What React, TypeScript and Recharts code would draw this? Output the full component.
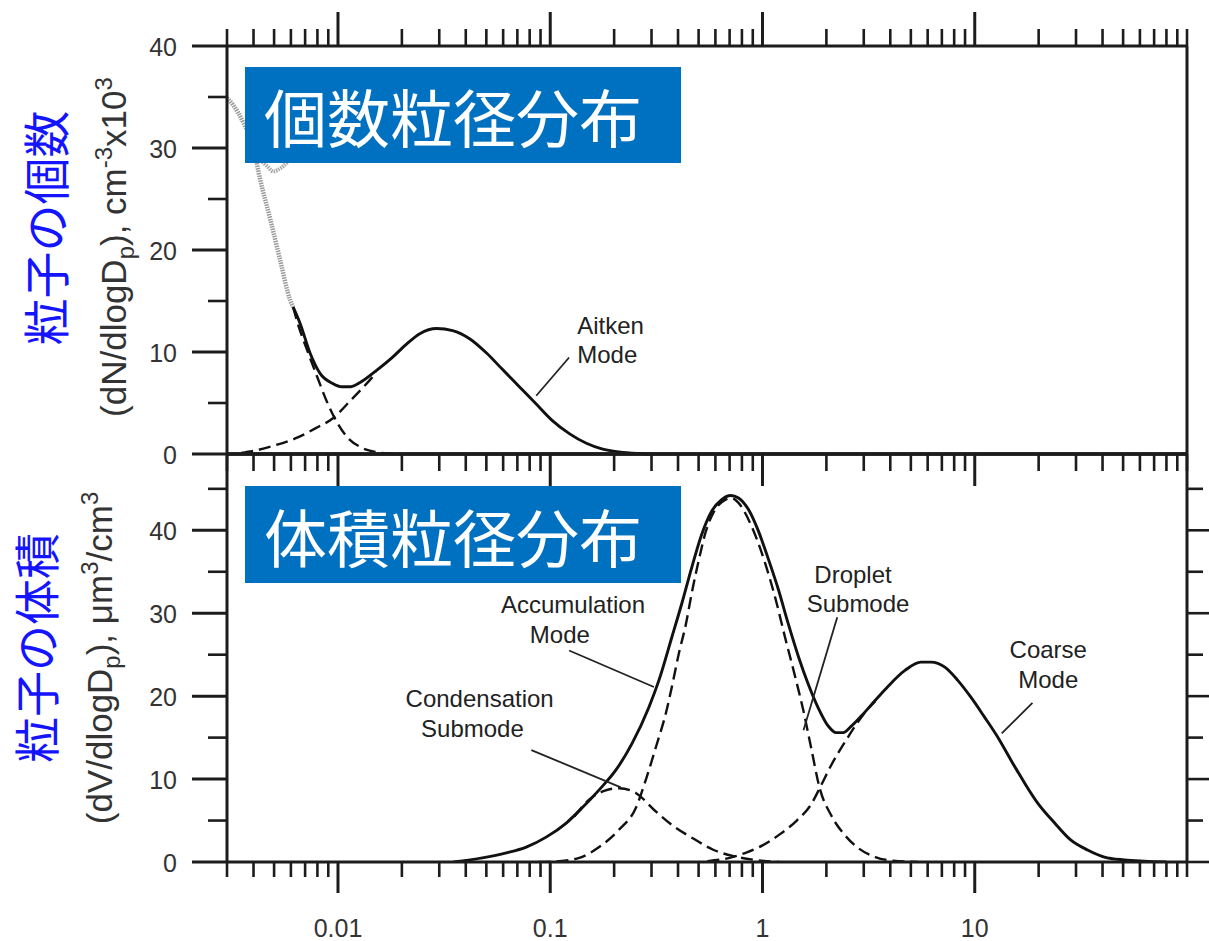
import React from "react";
import { LineChart, Line, XAxis, YAxis, ReferenceLine, ReferenceDot } from "recharts";

// ---------- axis ticks ----------
const xTicks = [
  0.003, 0.004, 0.005, 0.006, 0.007, 0.008, 0.009,
  0.01, 0.02, 0.03, 0.04, 0.05, 0.06, 0.07, 0.08, 0.09,
  0.1, 0.2, 0.3, 0.4, 0.5, 0.6, 0.7, 0.8, 0.9,
  1, 2, 3, 4, 5, 6, 7, 8, 9,
  10, 20, 30, 40, 50, 60, 70, 80, 90, 100,
];
const xMajorTicks = [0.01, 0.1, 1, 10];
const xTickLabels = ["0.01", "0.1", "1", "10"];

const numLeftTicks = [0, 5, 10, 15, 20, 25, 30, 35, 40];
const numLeftMajor = [0, 10, 20, 30, 40];
const numRightTicks = [0, 10, 20, 30, 40, 50, 60];
const numRightMajor = [0, 20, 40, 60];
const volLeftTicks = [0, 5, 10, 15, 20, 25, 30, 35, 40, 45];
const volLeftMajor = [0, 10, 20, 30, 40];

// ---------- number distribution (top) ----------
const numTotalD = [0.00615, 0.00663, 0.0074, 0.00823, 0.00947, 0.0104, 0.0115, 0.0127, 0.0152, 0.0181, 0.0211, 0.0243, 0.0292, 0.0347, 0.0417, 0.0501, 0.0595, 0.0715, 0.0859, 0.102, 0.123, 0.148, 0.175, 0.211, 0.26, 0.3];
const numTotalV = [14.4, 12.8, 9.85, 7.9, 6.9, 6.6, 6.6, 7.0, 8.2, 9.5, 10.8, 11.8, 12.3, 12.1, 11.3, 9.9, 8.3, 6.6, 4.9, 3.3, 2.0, 1.05, 0.5, 0.2, 0.05, 0];

const nucGrayD = [0.003, 0.00321, 0.00358, 0.00399, 0.0043, 0.0048, 0.00534, 0.00595, 0.00615];
const nucGrayV = [34.9, 34.2, 32.5, 30.1, 26.9, 23.0, 19.0, 15.1, 14.4];

const ghostD = [0.00399, 0.0043, 0.00465, 0.00495, 0.00534, 0.00577, 0.0062];
const ghostV = [30.1, 28.9, 28.2, 27.7, 28.0, 28.6, 29.5];

const nucDashD = [0.00615, 0.00642, 0.00715, 0.00797, 0.00888, 0.0099, 0.011, 0.0127, 0.0146, 0.0175, 0.02];
const nucDashV = [14.4, 13.0, 10.2, 7.6, 5.1, 3.1, 1.7, 0.7, 0.25, 0.05, 0];

const aitDashD = [0.0035, 0.004, 0.00495, 0.00642, 0.00797, 0.00947, 0.0114, 0.0131, 0.0152];
const aitDashV = [0.1, 0.3, 0.8, 1.6, 2.6, 3.5, 5.2, 6.5, 8.0];

// ---------- volume distribution (bottom) ----------
const volTotalD = [0.035, 0.0479, 0.0621, 0.0771, 0.0957, 0.119, 0.141, 0.17, 0.204, 0.243, 0.292, 0.325, 0.374, 0.417, 0.464, 0.517, 0.576, 0.642, 0.708, 0.771, 0.859, 0.957, 1.07, 1.19, 1.32, 1.48, 1.64, 1.83, 2.04, 2.22, 2.4, 2.6, 2.92, 3.4, 3.91, 4.69, 5.57, 6.21, 7.23, 8.32, 9.57, 11.1, 12.8, 14.8, 17.2, 19.8, 23.8, 28.2, 34.0, 40.8, 50.6, 62.8, 80];
const volTotalV = [0, 0.5, 1.1, 1.8, 3.0, 4.7, 6.5, 8.7, 11.1, 14.3, 18.7, 21.9, 27.1, 31.2, 35.5, 39.5, 42.3, 43.7, 44.2, 43.9, 42.5, 39.9, 36.4, 32.8, 28.8, 24.7, 21.5, 18.6, 16.4, 15.6, 15.6, 16.3, 17.6, 19.5, 21.2, 23.1, 24.1, 24.1, 23.5, 21.9, 19.9, 17.5, 15.1, 12.3, 9.5, 7.1, 4.7, 2.7, 1.45, 0.6, 0.25, 0.1, 0];

const condDashD = [0.13, 0.152, 0.181, 0.211, 0.254, 0.308, 0.382, 0.474, 0.589, 0.731, 0.957, 1.2];
const condDashV = [5.5, 7.5, 8.6, 8.9, 8.3, 6.3, 4.3, 2.8, 1.45, 0.7, 0.2, 0];

const dropDashD = [0.088, 0.11, 0.137, 0.17, 0.211, 0.254, 0.282, 0.315, 0.351, 0.374, 0.404, 0.435, 0.464, 0.501, 0.54, 0.602, 0.67, 0.715, 0.771, 0.888, 1.03, 1.15, 1.28, 1.43, 1.56, 1.7, 1.86, 2.11, 2.45, 2.82, 3.4, 4.12, 5.4];
const dropDashV = [0, 0.1, 0.5, 1.8, 3.9, 6.6, 9.9, 13.9, 18.0, 21.1, 25.2, 28.6, 32.4, 36.4, 39.8, 42.6, 43.7, 43.9, 43.3, 40.5, 36.0, 31.8, 27.0, 22.2, 18.2, 13.6, 8.9, 5.6, 3.2, 1.7, 0.6, 0.15, 0];

const coarseDashD = [0.55, 0.7, 0.85, 1.0, 1.2, 1.45, 1.7, 1.86, 2.1, 2.45, 2.82, 3.1, 3.4];
const coarseDashV = [0.1, 0.5, 1.2, 2.0, 3.3, 5.0, 7.0, 8.9, 11.6, 14.5, 16.9, 18.3, 19.4];

// ---------- annotations ----------
const numNotes = [
  { text: "Aitken", d: 0.134, v: 11.8, anchor: "start" },
  { text: "Mode", d: 0.134, v: 8.9, anchor: "start" },
];
const numLeaders = [{ d1: 0.1227, v1: 9.46, d2: 0.0859, v2: 5.71 }];

const volNotes = [
  { text: "Accumulation", d: 0.128, v: 30.0, anchor: "middle" },
  { text: "Mode", d: 0.111, v: 26.4, anchor: "middle" },
  { text: "Condensation", d: 0.0465, v: 18.7, anchor: "middle" },
  { text: "Submode", d: 0.043, v: 15.1, anchor: "middle" },
  { text: "Droplet", d: 2.67, v: 33.7, anchor: "middle" },
  { text: "Submode", d: 2.82, v: 30.1, anchor: "middle" },
  { text: "Coarse", d: 22.2, v: 24.6, anchor: "middle" },
  { text: "Mode", d: 22.2, v: 21.0, anchor: "middle" },
];
const volLeaders = [
  { d1: 0.1227, v1: 25.5, d2: 0.308, v2: 21.1 },
  { d1: 0.0815, v1: 13.5, d2: 0.215, v2: 9.0 },
  { d1: 2.25, v1: 29.5, d2: 1.56, v2: 15.9 },
  { d1: 18.7, v1: 19.2, d2: 13.4, v2: 15.5 },
];

// ---------- styles ----------
const W = 1209;
const H = 941;
const PLOT_L = 227;
const PLOT_R = 1187;
const TOP_Y0 = 46;
const MID_Y = 454;
const BOT_Y1 = 862;
const AXIS = "#1c1c1c";
const INK = "#111";
const LABEL = "#333";
const SANS = "'Liberation Sans', Arial, Helvetica, sans-serif";
const CJK = "'Noto Sans CJK JP', 'Noto Sans CJK SC', sans-serif";

const toPts = (d: number[], v: number[]) => d.map((x, i) => ({ d: x, v: v[i] }));

// ---------- tick renderers ----------
const XTickUp = (p: any) => {
  const major = xMajorTicks.includes(p.payload.value);
  return <line x1={p.x} x2={p.x} y1={p.y} y2={p.y - (major ? 34 : 17)} stroke={AXIS} strokeWidth={major ? 3 : 2.6} />;
};
const XTickDownInner = (p: any) => {
  const major = xMajorTicks.includes(p.payload.value);
  return <line x1={p.x} x2={p.x} y1={p.y} y2={p.y + (major ? 32 : 17)} stroke={AXIS} strokeWidth={major ? 3 : 2.6} />;
};
const XTickDownLabeled = (p: any) => {
  const idx = xMajorTicks.indexOf(p.payload.value);
  const major = idx >= 0;
  return (
    <g>
      <line x1={p.x} x2={p.x} y1={p.y} y2={p.y + (major ? 31 : 15)} stroke={AXIS} strokeWidth={major ? 3 : 2.6} />
      {major && (
        <text x={p.x} y={p.y + 75} textAnchor="middle" fontSize={25} fontFamily={SANS} fill={LABEL}>
          {xTickLabels[idx]}
        </text>
      )}
    </g>
  );
};
const makeLeftTick = (majors: number[]) => (p: any) => {
  const major = majors.includes(p.payload.value);
  return (
    <g>
      <line x1={p.x - (major ? 35 : 19)} x2={p.x} y1={p.y} y2={p.y} stroke={AXIS} strokeWidth={major ? 3 : 2.6} />
      {major && (
        <text x={p.x - 50} y={p.y + 10} textAnchor="end" fontSize={25} fontFamily={SANS} fill={LABEL}>
          {p.payload.value}
        </text>
      )}
    </g>
  );
};
const makeRightTick = (majors: number[]) => (p: any) => {
  const major = majors.includes(p.payload.value);
  return <line x1={p.x} x2={p.x + (major ? 24 : 16)} y1={p.y} y2={p.y} stroke={AXIS} strokeWidth={2.6} />;
};

const noteShape = (n: any) => (p: any) => (
  <text x={p.cx} y={p.cy} textAnchor={n.anchor} fontSize={24} fontFamily={SANS} fill="#222">
    {n.text}
  </text>
);

const solid = { stroke: INK, strokeWidth: 2.9, dot: false, isAnimationActive: false, type: "monotone" as const };
const dashed = { stroke: INK, strokeWidth: 2.4, strokeDasharray: "12 6", dot: false, isAnimationActive: false, type: "monotone" as const };

// axes have size 1 so Recharts draws them; margins are reduced by that 1px
function NumberChart() {
  return (
    <LineChart width={W} height={H} margin={{ top: TOP_Y0 - 1, right: W - PLOT_R - 1, left: PLOT_L - 1, bottom: H - MID_Y - 1 }}>
      <XAxis xAxisId="b" type="number" dataKey="d" scale="log" domain={[0.003, 100]} allowDataOverflow
        orientation="bottom" height={1} ticks={xTicks} interval={0} tick={false} tickLine={false}
        axisLine={{ stroke: AXIS, strokeWidth: 3.5 }} />
      <XAxis xAxisId="t" type="number" dataKey="d" scale="log" domain={[0.003, 100]} allowDataOverflow
        orientation="top" height={1} ticks={xTicks} interval={0} tickSize={0} tickMargin={0} tickLine={false}
        tick={XTickUp} axisLine={{ stroke: AXIS, strokeWidth: 3 }} />
      <YAxis yAxisId="l" type="number" domain={[0, 40]} ticks={numLeftTicks} interval={0} width={1}
        tickSize={0} tickMargin={0} tickLine={false} tick={makeLeftTick(numLeftMajor)} axisLine={{ stroke: AXIS, strokeWidth: 3 }} />
      <YAxis yAxisId="r" orientation="right" type="number" domain={[0, 60]} ticks={numRightTicks} interval={0} width={1}
        tickSize={0} tickMargin={0} tickLine={false} tick={makeRightTick(numRightMajor)} axisLine={{ stroke: AXIS, strokeWidth: 3 }} />

      <Line xAxisId="b" yAxisId="l" data={toPts(ghostD, ghostV)} dataKey="v" {...solid} stroke="#a8a8a8" strokeWidth={4} strokeDasharray="1.5 1" />
      <Line xAxisId="b" yAxisId="l" data={toPts(nucGrayD, nucGrayV)} dataKey="v" {...solid} stroke="#9c9c9c" strokeWidth={4.5} strokeDasharray="1.5 1" />
      <Line xAxisId="b" yAxisId="l" data={toPts(nucDashD, nucDashV)} dataKey="v" {...dashed} />
      <Line xAxisId="b" yAxisId="l" data={toPts(aitDashD, aitDashV)} dataKey="v" {...dashed} />
      <Line xAxisId="b" yAxisId="l" data={toPts(numTotalD, numTotalV)} dataKey="v" {...solid} />

      {numLeaders.map((l, i) => (
        <ReferenceLine key={"nl" + i} xAxisId="b" yAxisId="l" ifOverflow="visible"
          segment={[{ x: l.d1, y: l.v1 }, { x: l.d2, y: l.v2 }]} stroke="#222" strokeWidth={1.8} />
      ))}
      {numNotes.map((n, i) => (
        <ReferenceDot key={"nn" + i} xAxisId="b" yAxisId="l" x={n.d} y={n.v} r={0} ifOverflow="visible" shape={noteShape(n)} />
      ))}
    </LineChart>
  );
}

function VolumeChart() {
  return (
    <LineChart width={W} height={H} margin={{ top: MID_Y - 1, right: W - PLOT_R - 1, left: PLOT_L - 1, bottom: H - BOT_Y1 - 1 }}>
      <XAxis xAxisId="b" type="number" dataKey="d" scale="log" domain={[0.003, 100]} allowDataOverflow
        orientation="bottom" height={1} ticks={xTicks} interval={0} tickSize={0} tickMargin={0} tickLine={false}
        tick={XTickDownLabeled} axisLine={{ stroke: AXIS, strokeWidth: 3 }} />
      <XAxis xAxisId="t" type="number" dataKey="d" scale="log" domain={[0.003, 100]} allowDataOverflow
        orientation="top" height={1} ticks={xTicks} interval={0} tickSize={0} tickMargin={0} tickLine={false}
        tick={XTickDownInner} axisLine={{ stroke: AXIS, strokeWidth: 3.5 }} />
      <YAxis yAxisId="l" type="number" domain={[0, 49.2]} allowDataOverflow ticks={volLeftTicks} interval={0} width={1}
        tickSize={0} tickMargin={0} tickLine={false} tick={makeLeftTick(volLeftMajor)} axisLine={{ stroke: AXIS, strokeWidth: 3 }} />
      <YAxis yAxisId="r" orientation="right" type="number" domain={[0, 49.2]} allowDataOverflow ticks={volLeftTicks} interval={0} width={1}
        tickSize={0} tickMargin={0} tickLine={false} tick={makeRightTick(volLeftMajor)} axisLine={{ stroke: AXIS, strokeWidth: 3 }} />

      <Line xAxisId="b" yAxisId="l" data={toPts(condDashD, condDashV)} dataKey="v" {...dashed} />
      <Line xAxisId="b" yAxisId="l" data={toPts(dropDashD, dropDashV)} dataKey="v" {...dashed} />
      <Line xAxisId="b" yAxisId="l" data={toPts(coarseDashD, coarseDashV)} dataKey="v" {...dashed} />
      <Line xAxisId="b" yAxisId="l" data={toPts(volTotalD, volTotalV)} dataKey="v" {...solid} />

      {volLeaders.map((l, i) => (
        <ReferenceLine key={"vl" + i} xAxisId="b" yAxisId="l" ifOverflow="visible"
          segment={[{ x: l.d1, y: l.v1 }, { x: l.d2, y: l.v2 }]} stroke="#222" strokeWidth={1.8} />
      ))}
      {volNotes.map((n, i) => (
        <ReferenceDot key={"vn" + i} xAxisId="b" yAxisId="l" x={n.d} y={n.v} r={0} ifOverflow="visible" shape={noteShape(n)} />
      ))}
    </LineChart>
  );
}

function Overlay() {
  return (
    <svg width={W} height={H} style={{ position: "absolute", left: 0, top: 0, pointerEvents: "none" }}>
      {/* blue title boxes */}
      <rect x={245} y={67} width={436} height={96} fill="#0070C0" />
      <text x={264} y={142} fontSize={63} fontFamily={CJK} fill="#fff">個数粒径分布</text>
      <rect x={245} y={486} width={436} height={97} fill="#0070C0" />
      <text x={264} y={562} fontSize={63} fontFamily={CJK} fill="#fff">体積粒径分布</text>

      {/* blue side labels */}
      <text transform="translate(64,228) rotate(-90)" textAnchor="middle" fontSize={47} fontFamily={CJK} fill="#1414ff">粒子の個数</text>
      <text transform="translate(54,648) rotate(-90)" textAnchor="middle" fontSize={46} fontFamily={CJK} fill="#1414ff">粒子の体積</text>

      {/* axis titles */}
      <text transform="translate(126,247) rotate(-90)" textAnchor="middle" fontSize={35} fontFamily={SANS} fill={LABEL}>
        (dN/dlogD<tspan dy={8} fontSize={24}>p</tspan><tspan dy={-8}>), cm</tspan>
        <tspan dy={-14} fontSize={24}>-3</tspan><tspan dy={14}>x10</tspan><tspan dy={-14} fontSize={24}>3</tspan>
      </text>
      <text transform="translate(112,658) rotate(-90)" textAnchor="middle" fontSize={35} fontFamily={SANS} fill={LABEL}>
        (dV/dlogD<tspan dy={8} fontSize={24}>p</tspan><tspan dy={-8}>), μm</tspan>
        <tspan dy={-14} fontSize={24}>3</tspan><tspan dy={14}>/cm</tspan><tspan dy={-14} fontSize={24}>3</tspan>
      </text>
    </svg>
  );
}

export default function App() {
  return (
    <div style={{ position: "absolute", left: 0, top: 0, width: W, height: H, background: "#fff", overflow: "hidden" }}>
      <div style={{ position: "absolute", left: 0, top: 0 }}>
        <NumberChart />
      </div>
      <div style={{ position: "absolute", left: 0, top: 0 }}>
        <VolumeChart />
      </div>
      <Overlay />
    </div>
  );
}
